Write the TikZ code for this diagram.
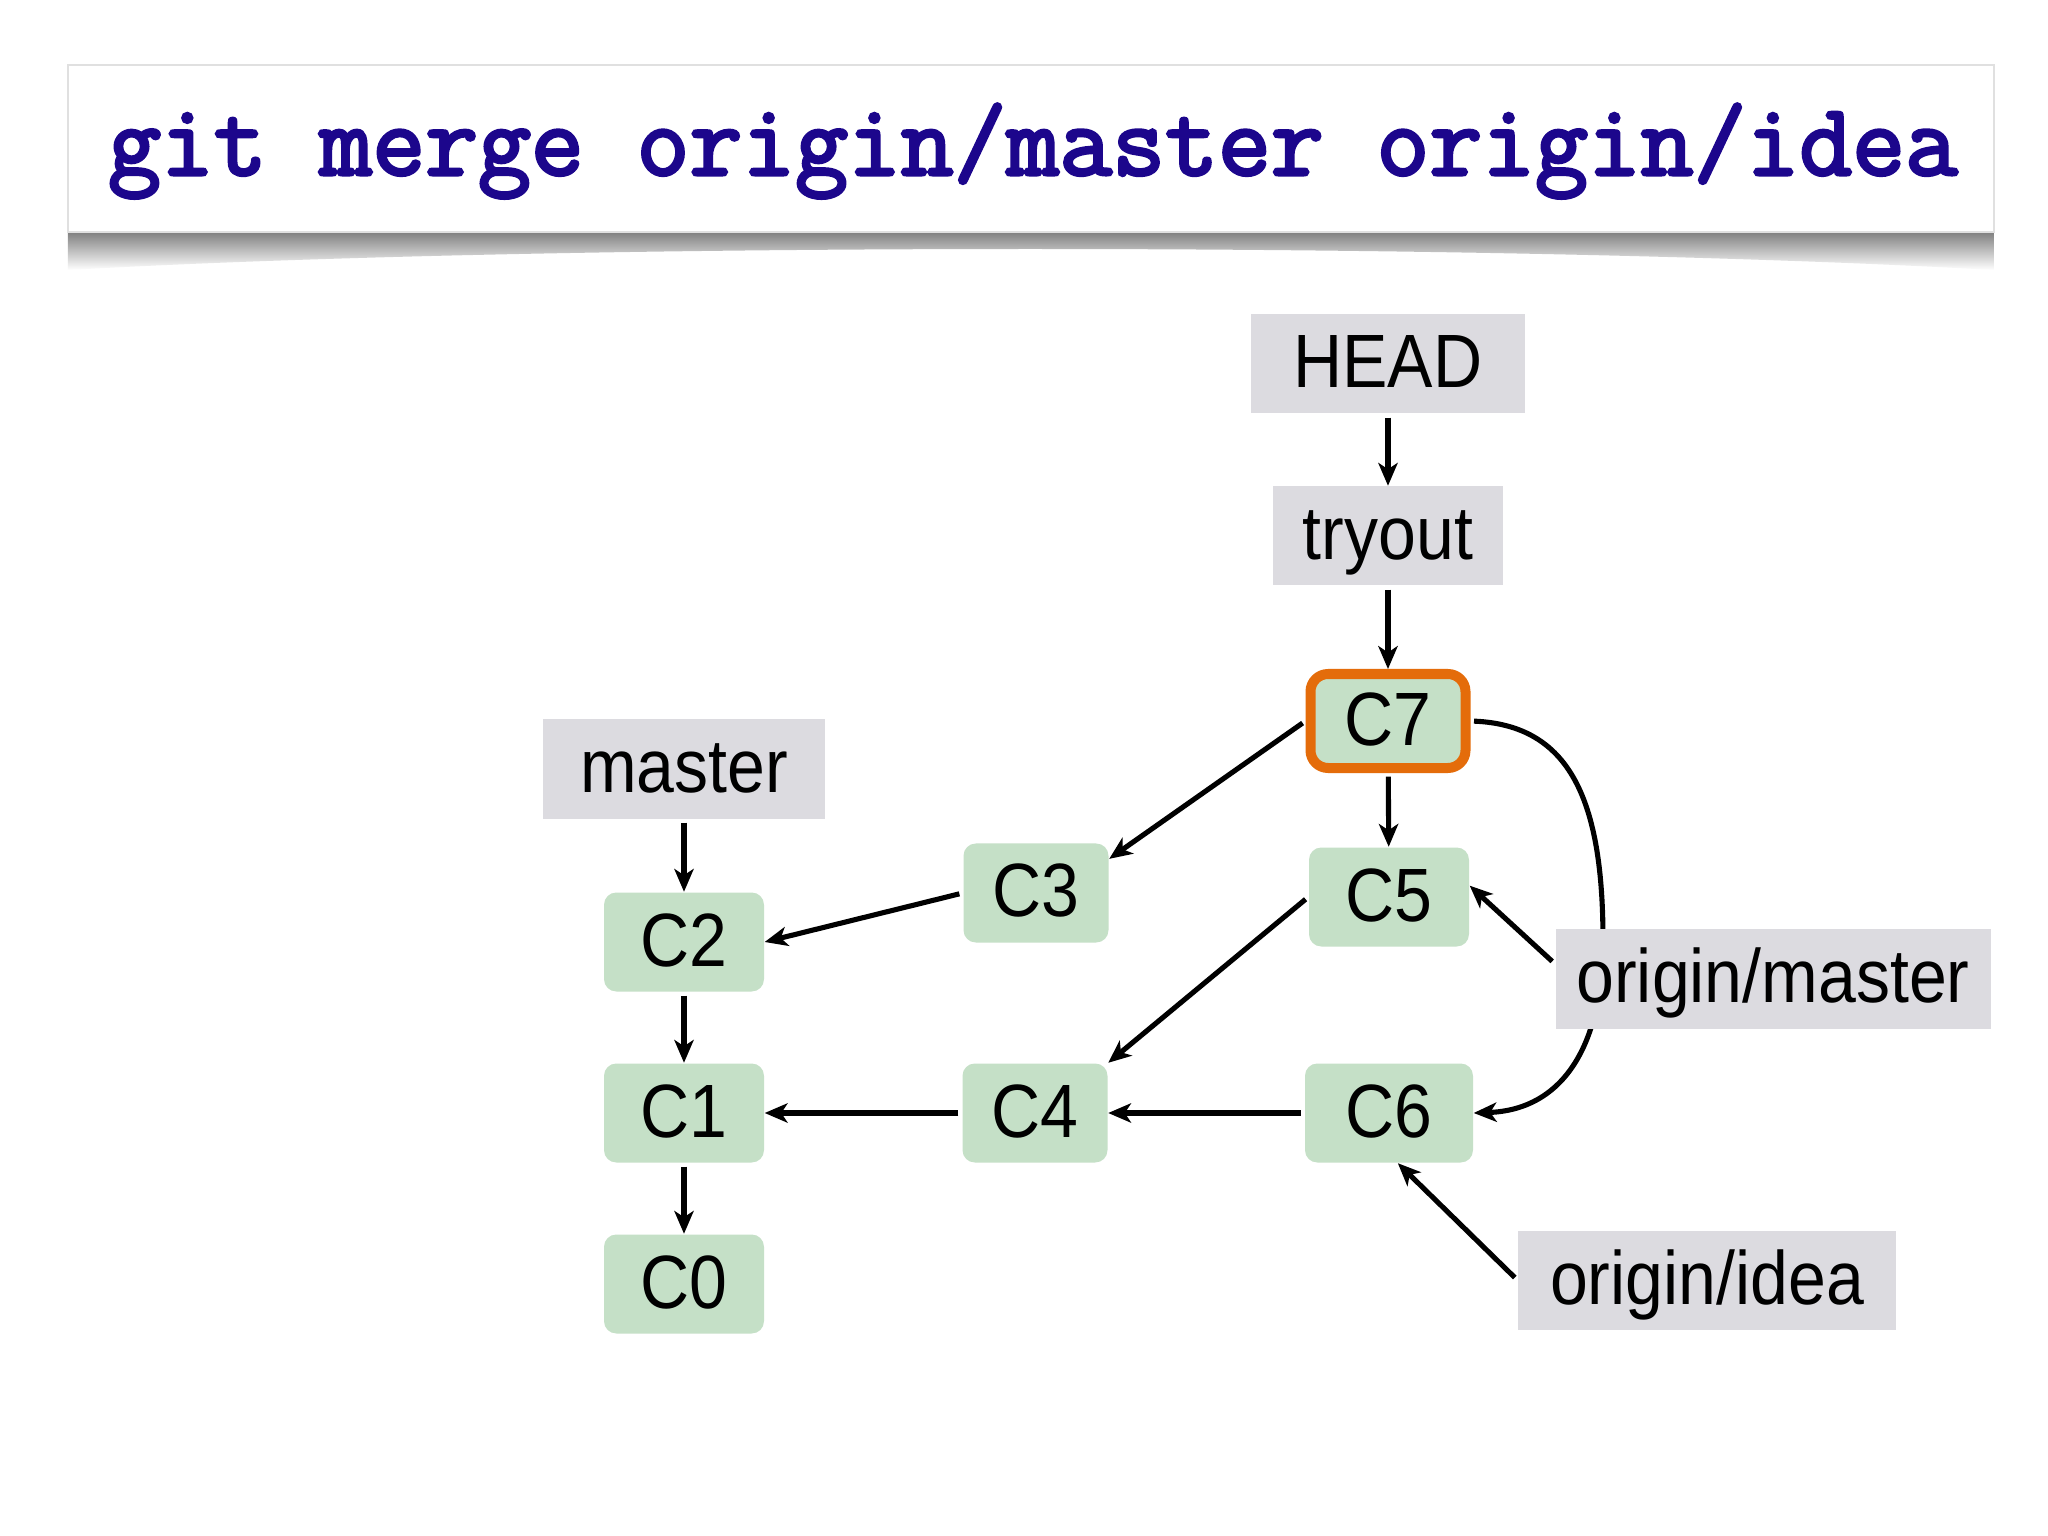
\documentclass[tikz,border=0pt]{standalone}
\usepackage{fontspec}
\setmainfont[FakeStretch=0.9]{Liberation Sans}
\newfontfamily\cmdfont[FakeBold=3]{Latin Modern Mono}
\usetikzlibrary{arrows.meta,backgrounds}
\definecolor{commitgreen}{RGB}{197,224,199}
\definecolor{refgray}{RGB}{220,219,224}
\definecolor{headorange}{RGB}{228,108,10}
\definecolor{cmdblue}{RGB}{28,6,140}
\tikzset{
  commit/.style={
    rectangle,
    rounded corners=3.5pt,
    fill=commitgreen,
    minimum height=0.99cm,
    minimum width=1.6cm,
    inner sep=0pt,
    text height=0.6cm,
    text depth=0.12cm,
    font=\fontsize{21.5}{25}\selectfont,
  },
  headcommit/.style={
    commit,
    rounded corners=5pt,
    draw=headorange,
    line width=0.1cm,
    minimum height=0.94cm,
    minimum width=1.55cm
  },
  ref/.style={
    rectangle,
    fill=refgray,
    minimum height=0.99cm,
    inner sep=0pt,
    text height=0.6cm,
    text depth=0.12cm,
    font=\fontsize{21.5}{25}\selectfont,
  },
  arrow/.style={
    -{Stealth[length=6.5pt,width=5.5pt,inset=1.8pt]},
    line width=1.45pt,
    shorten <=1pt
  }
}

\begin{document}
\begin{tikzpicture}

\useasboundingbox (0,0) rectangle (20.48,-15.36);

% command banner
\shade[top color=black!50, bottom color=white]
  (0.68,-2.32) -- (19.94,-2.32) -- (19.94,-2.70)
  .. controls (15,-2.42) and (5.6,-2.42) .. (0.68,-2.70) -- cycle;
\node[draw=black!12, fill=white, minimum width=19.26cm, minimum height=1.67cm,
  inner sep=0pt] (banner) at (10.31,-1.485) {};
\node[anchor=base, text=cmdblue, font=\cmdfont\fontsize{29.2}{32}\selectfont,
  inner sep=0pt] (cmd) at (10.33,-1.75) {git merge origin/master origin/idea};

% refs
\node[ref, minimum width=2.74cm] (head) at (13.88,-3.64) {HEAD};
\node[ref, minimum width=2.30cm] (tryout) at (13.88,-5.36) {tryout};
\node[ref, minimum width=2.82cm] (master) at (6.84,-7.69) {master};
\node[ref, minimum width=4.35cm] (om) at (17.73,-9.79) {origin/master};
\node[ref, minimum width=3.78cm] (oi) at (17.07,-12.80) {origin/idea};

% commits
\node[headcommit] (c7) at (13.88,-7.21) {C7};
\node[commit] (c5) at (13.89,-8.97) {C5};
\node[commit, minimum width=1.68cm] (c6) at (13.89,-11.13) {C6};
\node[commit, minimum width=1.45cm] (c3) at (10.36,-8.93) {C3};
\node[commit, minimum width=1.45cm] (c4) at (10.35,-11.13) {C4};
\node[commit] (c2) at (6.84,-9.42) {C2};
\node[commit] (c1) at (6.84,-11.13) {C1};
\node[commit] (c0) at (6.84,-12.84) {C0};

% pointers
\draw[arrow] (head) -- (tryout);
\draw[arrow] (tryout) -- (c7);
\draw[arrow] (master) -- (c2);
\draw[arrow] (om.176) -- (c5.8);
\draw[arrow] (oi.west) -- (c6.-80);

% parents
\draw[arrow] (c7.west) -- (c3.25);
\draw[arrow] (c7) -- (c5);
\draw[arrow] (c5.west) -- (c4.north east);
\draw[arrow] (c6) -- (c4);
\draw[arrow] (c4) -- (c1);
\draw[arrow] (c3.west) -- (c2.east);
\draw[arrow] (c2) -- (c1);
\draw[arrow] (c1) -- (c0);

\begin{pgfonlayer}{background}
\fill[white] (0,0) rectangle (20.48,-15.36);
\draw[arrow] (c7.east) .. controls (15.7,-7.25) and (16.03,-8.0) .. (16.03,-9.4)
  .. controls (16.03,-10.5) and (15.6,-11.1) .. (c6.east);
\end{pgfonlayer}

\end{tikzpicture}
\end{document}
